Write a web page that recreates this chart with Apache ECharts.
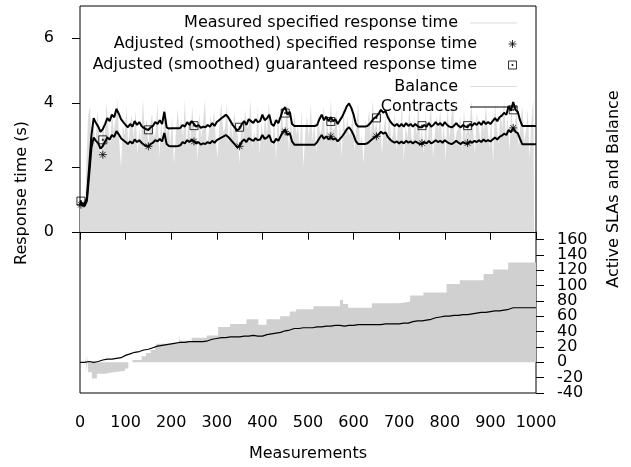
<!DOCTYPE html>
<html><head><meta charset="utf-8">
<script src="https://cdn.jsdelivr.net/npm/echarts@6/dist/echarts.min.js"></script>
<style>html,body{margin:0;padding:0;background:#fff}#c{width:631px;height:467px}</style>
</head><body><div id="c"></div>
<script>
// ---- data ----
const measStep = 4; // measured values every 4 measurements
const measured = [
0.9,0.85,0.95,1.0,2.2,3.6,3.9,2.8,3.3,2.6,
3.8,3.0,2.2,3.4,2.9,4.0,3.2,2.7,3.7,3.1,
3.5,4.1,2.8,2.0,3.3,3.0,3.9,2.6,3.4,3.6,
2.9,3.8,2.4,3.2,2.8,4.1,3.1,3.5,2.7,3.3,
3.7,2.9,3.1,4.0,2.3,3.4,2.8,3.9,3.0,3.3,
2.7,3.6,2.1,3.0,3.8,3.2,3.5,2.9,4.1,2.6,
3.5,2.8,3.9,3.1,3.3,2.2,3.7,2.9,3.4,4.1,
2.6,3.0,3.6,3.2,3.8,2.8,2.3,3.4,4.0,3.1,
3.2,4.0,2.7,3.5,2.9,3.7,3.3,3.0,2.1,3.6,
2.9,3.8,3.2,3.3,4.1,2.6,3.1,2.8,3.9,2.4,
3.4,2.8,3.7,3.0,4.0,3.2,2.6,3.6,2.2,3.8,
2.7,3.9,3.1,3.2,4.1,2.5,3.5,2.9,3.7,3.0,
3.3,2.6,3.8,2.0,3.1,3.6,2.9,4.0,2.8,3.4,
2.4,3.7,3.0,3.2,3.9,2.8,3.5,2.7,4.1,3.1,
3.2,3.8,2.6,3.4,2.3,3.9,2.9,3.6,3.0,3.1,
3.7,2.5,3.3,4.0,2.7,3.0,2.1,3.5,3.2,3.8,
2.9,4.1,3.1,3.4,2.8,3.9,2.4,3.2,3.6,2.7,
3.9,2.8,3.0,3.7,2.5,3.5,3.1,4.0,2.2,3.3,
2.9,3.8,3.1,2.6,3.6,3.0,4.1,2.8,3.2,2.4,
3.7,2.7,3.4,3.9,2.3,3.0,3.6,3.1,3.8,2.8,
3.3,2.2,3.9,2.9,3.5,4.0,2.7,3.1,3.2,3.6,
2.5,3.8,2.9,3.4,3.0,4.1,3.2,2.4,3.7,3.3,
2.8,3.5,3.1,3.9,3.2,2.6,3.6,2.1,4.0,3.3,
2.7,3.8,3.2,4.1,2.9,3.6,2.5,3.9,3.0,3.4,
3.7,2.6,3.4,3.9,2.8,3.1,3.8,2.3,3.5,4.1
];
const smoothStep = 5; // smoothed curves every 5 measurements
const specified = [
0.90,0.82,0.80,0.95,1.75,2.60,2.92,2.82,2.74,2.58,
2.66,2.80,2.92,2.86,3.00,2.94,3.12,3.02,2.90,2.84,
2.78,2.72,2.80,2.74,2.86,2.78,2.84,2.76,2.70,2.66,
2.64,2.72,2.76,2.84,2.80,2.88,2.80,3.06,2.72,2.66,
2.65,2.65,2.65,2.66,2.68,2.78,2.74,2.84,2.78,2.86,
2.80,2.74,2.78,2.70,2.74,2.72,2.78,2.74,2.82,2.76,
2.84,2.88,2.92,2.96,3.00,2.94,2.86,2.78,2.70,2.62,
2.66,2.80,2.86,2.78,2.90,2.86,2.82,2.90,2.84,2.86,
3.00,2.88,2.92,3.00,2.80,2.76,2.88,2.82,2.96,3.10,
3.16,3.00,3.06,2.80,2.70,2.70,2.70,2.70,2.70,2.70,
2.70,2.70,2.70,2.70,2.78,2.90,3.00,2.88,2.96,2.86,
2.94,2.86,2.90,2.80,2.88,2.96,3.06,3.18,3.24,3.14,
3.00,2.80,2.72,2.72,2.72,2.72,2.74,2.80,2.86,2.92,
2.96,3.02,3.10,3.04,3.08,2.94,2.86,2.80,2.76,2.80,
2.74,2.80,2.74,2.82,2.76,2.80,2.74,2.80,2.76,2.72,
2.72,2.78,2.74,2.82,2.74,2.78,2.84,2.78,2.82,2.76,
2.84,2.78,2.74,2.72,2.76,2.82,2.76,2.72,2.78,2.74,
2.72,2.80,2.76,2.82,2.78,2.84,2.78,2.86,2.80,2.84,
2.80,2.86,2.92,2.86,2.94,2.98,3.04,3.00,3.16,3.08,
3.22,3.10,3.06,2.88,2.71,2.71,2.71,2.71,2.71,2.71,
2.71
];
const guaranteed = [
0.95,0.88,0.86,1.05,2.00,2.98,3.52,3.37,3.26,3.10,
3.18,3.34,3.52,3.43,3.63,3.55,3.81,3.66,3.49,3.40,
3.31,3.24,3.34,3.26,3.43,3.31,3.40,3.28,3.22,3.18,
3.16,3.24,3.28,3.40,3.34,3.46,3.34,3.72,3.24,3.20,
3.21,3.21,3.21,3.21,3.22,3.31,3.26,3.40,3.31,3.43,
3.34,3.26,3.31,3.22,3.26,3.24,3.31,3.26,3.37,3.28,
3.40,3.46,3.52,3.57,3.63,3.55,3.43,3.31,3.22,3.14,
3.20,3.34,3.43,3.31,3.49,3.43,3.37,3.49,3.40,3.43,
3.63,3.46,3.52,3.63,3.34,3.28,3.46,3.37,3.57,3.78,
3.86,3.63,3.72,3.34,3.28,3.28,3.28,3.28,3.28,3.28,
3.28,3.28,3.28,3.28,3.31,3.49,3.63,3.46,3.57,3.43,
3.55,3.43,3.49,3.34,3.46,3.57,3.72,3.89,3.98,3.84,
3.63,3.34,3.26,3.26,3.26,3.26,3.28,3.34,3.43,3.52,
3.57,3.66,3.78,3.69,3.75,3.55,3.43,3.34,3.28,3.34,
3.26,3.34,3.26,3.37,3.28,3.34,3.26,3.34,3.28,3.24,
3.24,3.31,3.26,3.37,3.26,3.31,3.40,3.31,3.37,3.28,
3.40,3.31,3.26,3.24,3.28,3.37,3.28,3.24,3.31,3.26,
3.24,3.34,3.28,3.37,3.31,3.40,3.31,3.43,3.34,3.40,
3.34,3.43,3.52,3.43,3.55,3.60,3.69,3.63,3.90,3.75,
4.02,3.78,3.72,3.46,3.28,3.28,3.28,3.28,3.28,3.28,
3.28
];
const markerX = [2,50,150,250,350,450,550,650,750,850,950];
const markerSpecified = [0.84,2.39,2.65,2.80,2.65,3.11,2.96,2.96,2.75,2.75,3.22];
const markerGuaranteed = [0.95,2.85,3.16,3.29,3.24,3.68,3.42,3.53,3.29,3.29,3.78];
const balanceX = [0,11,12,14,16,18,26,37,55,73,99,106,115,135,145,155,165,168,217,219,245,278,303,329,365,391,409,439,460,474,512,570,577,588,640,698,724,753,804,833,885,906,939,1000];
const balanceY = [0,0,9,-13,9,-13,-21,-15,-13,-11,-8,0,3,8,12,16,20,24,35,28,32,35,46,50,56,49,56,60,66,69,73,81,76,71,77,79,87,91,102,107,115,121,130,130];
const contractStep = 10;
const contracts = [
0,0,1,0,1,3,4,4,5,6,
9,11,13,14,16,17,19,21,22,23,
24,25,26,26,27,27,27,27,28,30,
31,32,32,33,33,33,34,34,35,34,
34,36,37,38,39,41,42,44,44,45,
45,45,46,46,47,47,48,48,47,48,
48,49,49,49,49,49,49,50,50,50,
50,51,51,53,54,54,55,56,58,59,
60,60,61,61,62,62,63,64,65,65,
66,67,67,68,69,71,71,71,71,71,
71
];
const leftTicks = [0,2,4,6];
const rightTicks = [-40,-20,0,20,40,60,80,100,120,140,160];
const rightLabelsA = [-40,0,40,80,120,160];
const rightLabelsB = [-20,20,60,100,140];
const names = ['Measured specified response time','Adjusted (smoothed) specified response time','Adjusted (smoothed) guaranteed response time','Balance','Contracts'];

// ---- chart ----
const FONT = 'DejaVu Sans';
const chart = echarts.init(document.getElementById('c'), null, {renderer:'canvas'});
const STAR = 'path://M0,5L10,5M5,0L5,10M1.5,1.5L8.5,8.5M8.5,1.5L1.5,8.5';
const SQUARE = 'path://M0,0L10,0L10,10L0,10Z M4.3,4.3L5.7,4.3L5.7,5.7L4.3,5.7Z';
const txt = {fontFamily:FONT, fontSize:16, color:'#000'};
function leg(name, center, icon, h, style){
  return {data:[name], orient:'vertical', align:'right', right:114, top:center-9,
    itemWidth:47, itemHeight:h, itemGap:0, padding:0, icon:icon, itemStyle:style,
    selectedMode:false, textStyle:Object.assign({padding:[0,7,0,0]}, txt)};
}
function rightAxis(labels, showTicks){
  return {type:'value', min:-40, max:464, position:'right', offset:0,
    axisLine:{show:false}, splitLine:{show:false},
    axisTick:{show:showTicks, length:8, customValues:rightTicks, lineStyle:{color:'#000'}},
    axisLabel:Object.assign({margin:21, customValues:labels, align:'left', showMinLabel:true, showMaxLabel:true}, txt)};
}
const option = {
  animation:false,
  backgroundColor:'#fff',
  grid:{left:80, right:95, top:6, bottom:73, show:true, borderColor:'#000', borderWidth:1, backgroundColor:'transparent'},
  xAxis:{type:'value', min:0, max:1000, interval:100,
    axisLine:{show:true, lineStyle:{color:'#000'}},
    axisTick:{length:8, lineStyle:{color:'#000'}},
    axisLabel:Object.assign({margin:22, formatter:v=>String(v)}, txt),
    splitLine:{show:false},
    name:'Measurements', nameLocation:'middle', nameGap:53, nameTextStyle:txt},
  yAxis:[
    {type:'value', min:-5, max:7, position:'left',
      axisLine:{show:false}, splitLine:{show:false},
      axisTick:{show:true, length:8, customValues:leftTicks, lineStyle:{color:'#000'}},
      axisLabel:Object.assign({margin:26, customValues:leftTicks, showMinLabel:true, showMaxLabel:true}, txt)},
    rightAxis(rightLabelsA, true),
    rightAxis(rightLabelsB, false)
  ],
  legend:[
    leg(names[0], 24, 'rect', 1, {color:'#dcdcdc', borderWidth:0}),
    leg(names[1], 45, STAR, 8, {color:'transparent', borderColor:'#000', borderWidth:1}),
    leg(names[2], 66, SQUARE, 8, {color:'transparent', borderColor:'#000', borderWidth:1}),
    leg(names[3], 87.5, 'rect', 1, {color:'#dcdcdc', borderWidth:0}),
    leg(names[4], 108, 'rect', 1.2, {color:'#000', borderWidth:0})
  ],
  graphic:[
    {type:'text', x:22, y:193, rotation:Math.PI/2, style:{text:'Response time (s)', align:'center', verticalAlign:'middle', font:'16px "DejaVu Sans"', fill:'#000'}},
    {type:'text', x:614, y:189, rotation:Math.PI/2, style:{text:'Active SLAs and Balance', align:'center', verticalAlign:'middle', font:'16px "DejaVu Sans"', fill:'#000'}}
  ],
  series:[
    {name:names[0], type:'line', yAxisIndex:0, step:'middle', symbol:'none',
      lineStyle:{width:0, opacity:0}, itemStyle:{color:'#dcdcdc'},
      areaStyle:{color:'#dcdcdc', opacity:1},
      data:measured.map((v,i)=>[i*measStep, v]), z:1},
    {name:names[3], type:'line', yAxisIndex:1, step:'end', symbol:'none',
      lineStyle:{width:0, opacity:0}, itemStyle:{color:'#d0d0d0'},
      areaStyle:{color:'#d0d0d0', opacity:1},
      data:balanceX.map((x,i)=>[x, balanceY[i]]), z:1},
    {name:'specLine', type:'line', yAxisIndex:0, symbol:'none',
      lineStyle:{color:'#000', width:2}, data:specified.map((v,i)=>[i*smoothStep, v]), z:3},
    {name:'guarLine', type:'line', yAxisIndex:0, symbol:'none',
      lineStyle:{color:'#000', width:2}, data:guaranteed.map((v,i)=>[i*smoothStep, v]), z:3},
    {name:names[1], type:'scatter', yAxisIndex:0, symbol:STAR, symbolSize:8,
      itemStyle:{color:'transparent', borderColor:'#000', borderWidth:1},
      data:markerX.map((x,i)=>[x, markerSpecified[i]]), z:4},
    {name:names[2], type:'scatter', yAxisIndex:0, symbol:SQUARE, symbolSize:8,
      itemStyle:{color:'transparent', borderColor:'#000', borderWidth:1},
      data:markerX.map((x,i)=>[x, markerGuaranteed[i]]), z:4},
    {name:names[4], type:'line', yAxisIndex:1, symbol:'none',
      lineStyle:{color:'#000', width:1.2}, data:contracts.map((v,i)=>[i*contractStep, v]), z:3}
  ]
};
chart.setOption(option);
</script>
</body></html>
